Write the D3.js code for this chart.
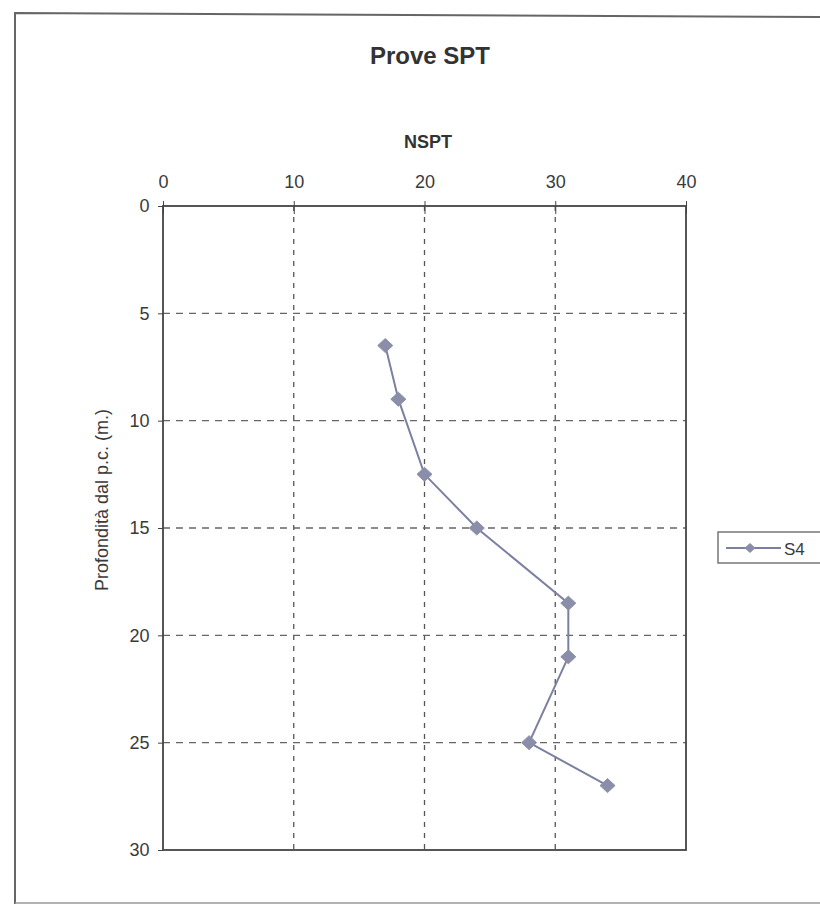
<!DOCTYPE html>
<html><head><meta charset="utf-8">
<script src="https://cdn.jsdelivr.net/npm/d3@7"></script>
<style>body{margin:0;background:#fff;} svg{display:block;font-family:"Liberation Sans",Arial,sans-serif;}</style>
</head><body>
<svg id="c" width="820" height="906"></svg>
<script>
const seriesName = "S4";
const nspt = [17, 18, 20, 24, 31, 31, 28, 34];
const depth = [6.5, 9, 12.5, 15, 18.5, 21, 25, 27];
const xTicks = [0, 10, 20, 30, 40];
const yTicks = [0, 5, 10, 15, 20, 25, 30];

const svg = d3.select("#c");
const L = 163, R = 686, T = 206, B = 850;
const x = d3.scaleLinear().domain([0, 40]).range([L, R]);
const y = d3.scaleLinear().domain([0, 30]).range([T, B]);
const txt = "#3a3a3a";
const ff = "'Liberation Sans',Arial,sans-serif";

// outer frame
svg.append("path").attr("d", "M15,904 L15,13 L830,17").attr("fill","none").attr("stroke","#666").attr("stroke-width",2);
svg.append("line").attr("x1",15).attr("x2",830).attr("y1",903).attr("y2",903).attr("stroke","#999").attr("stroke-width",1.5);

svg.append("text").attr("x", 430).attr("y", 64).attr("text-anchor","middle")
  .attr("font-size", 24).attr("font-weight","bold").attr("fill", "#333").text("Prove SPT");
svg.append("text").attr("x", 428).attr("y", 148).attr("text-anchor","middle")
  .attr("font-size", 18).attr("font-weight","bold").attr("fill", "#333").text("NSPT");

// grid
const g = svg.append("g");
g.selectAll(".gx").data(xTicks.slice(1, -1)).join("line")
  .attr("x1", d => x(d)).attr("x2", d => x(d)).attr("y1", T).attr("y2", B)
  .attr("stroke", "#555").attr("stroke-width", 1.3).attr("stroke-dasharray", "5,6");
g.selectAll(".gy").data(yTicks.slice(1, -1)).join("line")
  .attr("x1", L).attr("x2", R).attr("y1", d => y(d)).attr("y2", d => y(d))
  .attr("stroke", "#666").attr("stroke-width", 1.3).attr("stroke-dasharray", "7,6");

// axes
const xa = svg.append("g").attr("transform", `translate(0,${T})`)
  .call(d3.axisTop(x).tickValues(xTicks).tickSize(5));
xa.selectAll("text").attr("font-size", 18).attr("fill", txt).attr("dy", "-0.55em").attr("font-family", ff);
xa.selectAll("line").attr("stroke", "#444").attr("y2", 8).attr("y1", -5);
xa.select(".domain").remove();

const ya = svg.append("g").attr("transform", `translate(${L},0)`)
  .call(d3.axisLeft(y).tickValues(yTicks).tickSize(5));
ya.selectAll("text").attr("font-size", 18).attr("fill", txt).attr("dx", "-0.3em").attr("font-family", ff);
ya.selectAll("line").attr("stroke", "#444");
ya.select(".domain").remove();

svg.append("rect").attr("x", L).attr("y", T).attr("width", R - L).attr("height", B - T)
  .attr("fill", "none").attr("stroke", "#444").attr("stroke-width", 1.8);

svg.append("text").attr("transform", `translate(108,500) rotate(-90)`)
  .attr("text-anchor","middle").attr("font-size", 18).attr("fill", txt)
  .text("Profondità dal p.c. (m.)");

// series
const pts = nspt.map((v, i) => [v, depth[i]]);
const col = "#7c80a0";
svg.append("path").datum(pts)
  .attr("d", d3.line().x(d => x(d[0])).y(d => y(d[1])))
  .attr("fill", "none").attr("stroke", col).attr("stroke-width", 2);
const rh = (w, h) => `M0,${-h}L${w},0L0,${h}L${-w},0Z`;
svg.selectAll(".pt").data(pts).join("path")
  .attr("transform", d => `translate(${x(d[0])},${y(d[1])})`)
  .attr("d", rh(7.5, 7)).attr("fill", "#8a8ea8").attr("stroke", "#8a8ea8");

// legend
const lg = svg.append("g");
lg.append("rect").attr("x", 718).attr("y", 532).attr("width", 110).attr("height", 31)
  .attr("fill", "#fff").attr("stroke", "#777").attr("stroke-width", 1.5);
lg.append("line").attr("x1", 726).attr("x2", 781).attr("y1", 548).attr("y2", 548).attr("stroke", col).attr("stroke-width", 2);
lg.append("path").attr("transform", "translate(750,548)").attr("d", rh(5.5, 5)).attr("fill", "#8a8ea8");
lg.append("text").attr("x", 784).attr("y", 555).attr("font-size", 17).attr("fill", txt).text(seriesName);
</script>
</body></html>
